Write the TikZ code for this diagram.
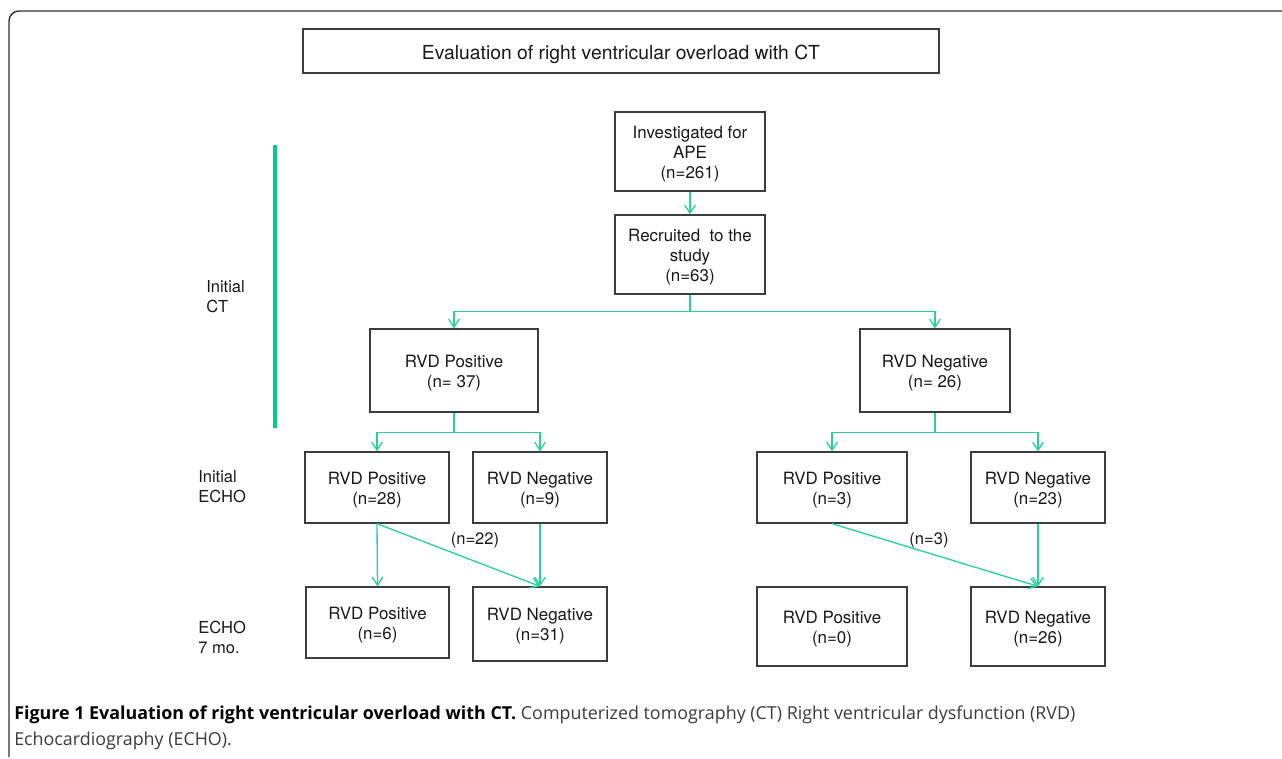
\documentclass[tikz,border=0pt]{standalone}
\usepackage{fontspec}
\setmainfont{TeX Gyre Heros}
\newfontfamily\capfont{Open Sans}
\usetikzlibrary{arrows.meta}
\definecolor{conn}{RGB}{40,208,158}
\definecolor{barc}{RGB}{0,204,140}
\definecolor{boxc}{RGB}{60,60,60}
\definecolor{capc}{RGB}{60,60,60}
\tikzset{
  lowertext/.style={execute at begin node={\rule{0pt}{#1}}},
  box/.style={draw=boxc, line width=1pt, fill=white, align=center, inner sep=0pt,
    font=\fontsize{12.7}{15}\selectfont, text=black!90},
  twolines/.style={text height=25.4pt, text depth=0pt},
  threelines/.style={text height=41pt, text depth=0pt},
  lbl/.style={inner sep=0pt, align=left, font=\fontsize{12.4}{15}\selectfont, text=black!90},
  link/.style={draw=conn, line width=1pt},
  arr/.style={link, -{Straight Barb[length=6pt,width=8pt,line width=1pt]}},
  bar/.style={draw=barc, line width=2.4pt},
  frame/.style={draw=black!80, line width=1.1pt, rounded corners=7.5pt},
  captext/.style={inner sep=0pt, anchor=base west, font=\capfont\fontsize{13.4}{15}\selectfont, text=capc}
}
\begin{document}
\begin{tikzpicture}[x=0.75pt, y=-0.75pt]
\useasboundingbox (0,0) rectangle (1282,759);
% outer frame
\draw[frame] (1290,11) -- (9,11) -- (9,757);
% title
\node[box, font=\fontsize{14.5}{17}\selectfont, lowertext=15.2pt, minimum width=477pt, minimum height=33pt] (title) at (621,51) {Evaluation of right ventricular overload with CT};
% top boxes
\node[box, threelines, minimum width=112.5pt, minimum height=59.25pt] (inv) at (690,151.5) {Investigated for\\APE\\(n=261)};
\node[box, threelines, minimum width=112.5pt, minimum height=59.25pt] (rec) at (690,254.5) {Recruited\ \ to the\\study\\(n=63)};
% CT row
\node[box, twolines, minimum width=126pt, minimum height=62.25pt] (ctpos) at (454,370.5) {RVD Positive\\(n= 37)};
\node[box, twolines, minimum width=112.5pt, minimum height=62.25pt] (ctneg) at (935,370.5) {RVD Negative\\(n= 26)};
% initial ECHO row
\node[box, twolines, minimum width=108pt, minimum height=53.25pt] (e1pos) at (377,487.5) {RVD Positive\\(n=28)};
\node[box, twolines, minimum width=100.5pt, minimum height=53.25pt] (e1neg) at (540,487.5) {RVD Negative\\(n=9)};
\node[box, twolines, minimum width=112.5pt, minimum height=53.25pt] (e2pos) at (832,487.5) {RVD Positive\\(n=3)};
\node[box, twolines, minimum width=100.5pt, minimum height=53.25pt] (e2neg) at (1038,487.5) {RVD Negative\\(n=23)};
% ECHO 7 mo row
\node[box, twolines, minimum width=107.25pt, minimum height=53.25pt] (f1pos) at (377.5,622.5) {RVD Positive\\(n=6)};
\node[box, twolines, minimum width=100.5pt, minimum height=55.5pt] (f1neg) at (540,624) {RVD Negative\\(n=31)};
\node[box, twolines, minimum width=112.5pt, minimum height=59.25pt] (f2pos) at (832,626.5) {RVD Positive\\(n=0)};
\node[box, twolines, minimum width=100.5pt, minimum height=59.25pt] (f2neg) at (1038,626.5) {RVD Negative\\(n=26)};
% connectors
\draw[arr] (inv.south) -- (rec.north);
\draw[link] (rec.south) -- ++(0,17) coordinate (j1);
\draw[arr] (j1) -| (ctpos.north);
\draw[arr] (j1) -| (ctneg.north);
\draw[link] (ctpos.south) -- ++(0,20) coordinate (j2);
\draw[arr] (j2) -| (e1pos.north);
\draw[arr] (j2) -| (e1neg.north);
\draw[link] (ctneg.south) -- ++(0,20) coordinate (j3);
\draw[arr] (j3) -| (e2pos.north);
\draw[arr] (j3) -| (e2neg.north);
\draw[arr] (e1pos.south) -- (f1pos.north);
\draw[arr] (e1neg.south) -- (f1neg.north);
\draw[arr] (e1pos.south) -- (f1neg.north);
\draw[arr] (e2neg.south) -- (f2neg.north);
\draw[arr] (e2pos.south) -- (f2neg.north);
\node[lbl] (n22) at (475,540) {(n=22)};
\node[lbl] (n3) at (929,540) {(n=3)};
% phase labels
\draw[bar] (275,145) -- (275,428);
\node[lbl, anchor=west] (lct) at (206,297) {Initial\\CT};
\node[lbl, anchor=west] (lecho) at (198,487) {Initial\\ECHO};
\node[lbl, anchor=west] (l7) at (198,637) {ECHO\\7 mo.};
% caption
\node[captext] (cap1) at (14,719) {{\bfseries\color{black}Figure 1 Evaluation of right ventricular overload with CT.} Computerized tomography (CT) Right ventricular dysfunction (RVD)};
\node[captext] (cap2) at (14,745) {Echocardiography (ECHO).};
\end{tikzpicture}
\end{document}
